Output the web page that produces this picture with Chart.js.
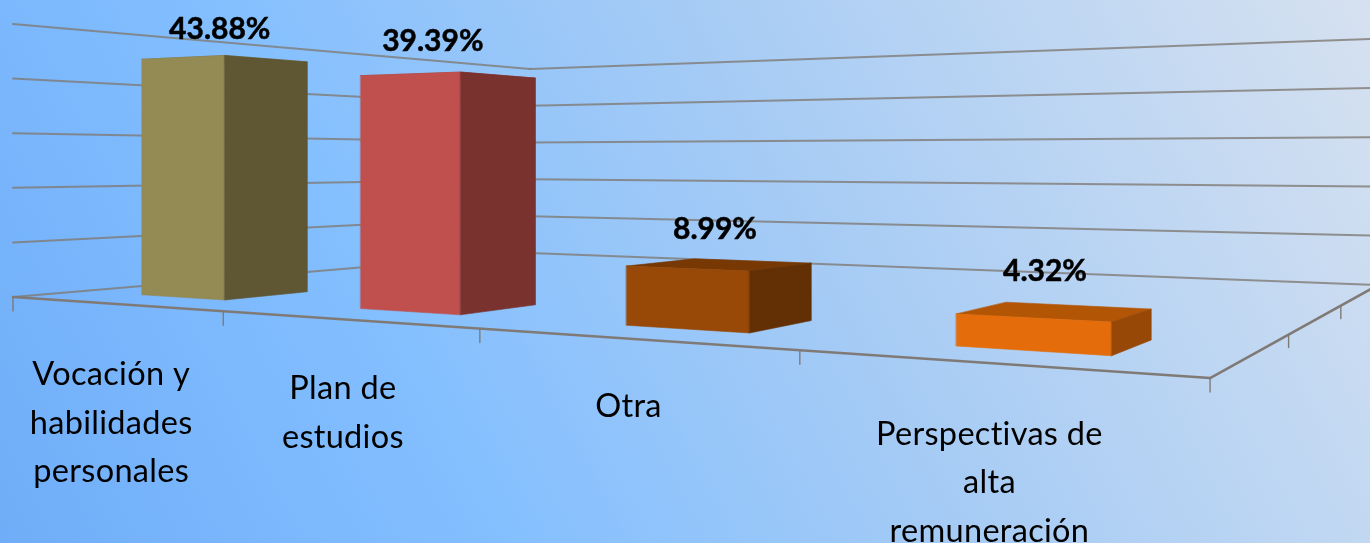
<!DOCTYPE html>
<html>
<head>
<meta charset="utf-8">
<title>Chart</title>
<script src="https://cdn.jsdelivr.net/npm/chart.js@4"></script>
<style>
  html, body { margin: 0; padding: 0; overflow: hidden; }
  body { width: 1370px; height: 543px; background: linear-gradient(62deg, #6fadf8 0%, #83bfff 30%, #a5cbf5 58%, #d6e1f0 100%); }
  canvas { display: block; filter: blur(0.55px); }
</style>
</head>
<body>
<canvas id="bar-chart" width="1370" height="543"></canvas>
<script>
const categories = [
  ['Vocación y', 'habilidades', 'personales'],
  ['Plan de', 'estudios'],
  ['Otra'],
  ['Perspectivas de', 'alta', 'remuneración'],
];
const shares = [43.88, 39.39, 8.99, 4.32];
const frontColors = ['#948a54', '#c0504d', '#984807', '#e46c0a'];
const sideColors = ['#5f5733', '#7a322f', '#632f04', '#974806'];
const topColors = ['#716940', '#96403d', '#773804', '#b25606'];
const labelShiftX = [-8, -18, -6, -10];
const labelShiftY = [0, -4, -3, -8];

const axisMin = 0;
const axisMax = 50;
const axisStep = 10;

// perspective of the floor (u along the categories, d into the picture)
const P = { a: 760.6, b: 773, c: 13, e: -55.3, f: 78.2, k: 297, g: -0.3607, h: 0.483, wall: 273, wallG: -0.375 };
const depthTicks = [0, 1 / 3, 2 / 3, 1];
const barDepth = [0.095, 0.225];
const barNudge = 0.0015;

function project(u, d, level) {
  const w = 1 + P.g * u + P.h * d;
  return {
    x: (P.a * u + P.b * d + P.c) / w,
    y: (P.e * u + P.f * d + P.k) / w - (P.wall * level) / (1 + P.wallG * u + P.h * d),
  };
}

function polygon(ctx, points, color) {
  ctx.beginPath();
  points.forEach((p, i) => (i ? ctx.lineTo(p.x, p.y) : ctx.moveTo(p.x, p.y)));
  ctx.closePath();
  ctx.fillStyle = color;
  ctx.strokeStyle = color;
  ctx.lineWidth = 0.6;
  ctx.fill();
  ctx.stroke();
}

function line(ctx, a, b, width) {
  ctx.beginPath();
  ctx.moveTo(a.x, a.y);
  ctx.lineTo(b.x, b.y);
  ctx.lineWidth = width;
  ctx.stroke();
}

const perspective = {
  id: 'perspective',
  beforeDatasetsDraw(chart) {
    const { ctx, chartArea, scales } = chart;
    const yScale = scales.y;
    const levelOf = (px) => (yScale.bottom - px) / yScale.height;
    const uOf = (px) => (px - chartArea.left) / chartArea.width;

    ctx.save();
    ctx.lineCap = 'round';
    ctx.strokeStyle = 'rgba(128,122,118,0.8)';

    // walls
    yScale.ticks.forEach((tick) => {
      const level = levelOf(yScale.getPixelForValue(tick.value));
      line(ctx, project(0, 0, level), project(0, 1, level), 2);
      line(ctx, project(0, 1, level), project(1, 1, level), 2);
    });

    // floor edges and tick marks
    ctx.strokeStyle = 'rgba(128,122,118,1)';
    line(ctx, project(0, 0, 0), project(1, 0, 0), 2.6);
    line(ctx, project(1, 0, 0), project(1, 1, 0), 2.6);
    const edges = categories.length;
    for (let i = 0; i <= edges; i++) {
      const p = project(i / edges, 0, 0);
      line(ctx, p, { x: p.x, y: p.y + 14 }, 1.4);
    }
    depthTicks.slice(1, 3).forEach((d) => {
      const p = project(1, d, 0);
      line(ctx, p, { x: p.x, y: p.y + 13 }, 1.4);
    });

    // bars, taken from the bar elements that Chart.js laid out
    const meta = chart.getDatasetMeta(0);
    meta.data.forEach((bar, i) => {
      const u0 = uOf(bar.x - bar.width / 2) + barNudge;
      const u1 = uOf(bar.x + bar.width / 2) + barNudge;
      const [d0, d1] = barDepth;
      const level = levelOf(bar.y);
      polygon(ctx, [project(u0, d0, level), project(u1, d0, level), project(u1, d1, level), project(u0, d1, level)], topColors[i]);
      polygon(ctx, [project(u0, d0, 0), project(u1, d0, 0), project(u1, d0, level), project(u0, d0, level)], bar.options.backgroundColor);
      polygon(ctx, [project(u1, d0, 0), project(u1, d1, 0), project(u1, d1, level), project(u1, d0, level)], sideColors[i]);
    });

    // value labels
    ctx.fillStyle = '#000';
    ctx.strokeStyle = '#000';
    ctx.lineWidth = 0.5;
    ctx.textAlign = 'center';
    ctx.textBaseline = 'alphabetic';
    ctx.font = 'bold 30px Lato';
    meta.data.forEach((bar, i) => {
      const p = project(uOf(bar.x), 0.165, levelOf(bar.y));
      const text = shares[i].toFixed(2) + '%';
      const x = p.x + labelShiftX[i];
      const y = p.y - 22 + labelShiftY[i];
      ctx.fillText(text, x, y);
      ctx.strokeText(text, x, y);
    });

    // category labels under the front edge
    ctx.font = '32.5px Lato';
    ctx.letterSpacing = '0.3px';
    ctx.textBaseline = 'middle';
    meta.data.forEach((bar, i) => {
      const p = project(uOf(bar.x), 0, 0);
      const rows = chart.data.labels[i];
      rows.forEach((text, n) => {
        ctx.fillText(text, p.x - 2, p.y + 66.5 + rows.length * 1.5 + n * 48.5);
      });
    });
    ctx.restore();
    return false;
  },
};

new Chart(document.getElementById('bar-chart').getContext('2d'), {
  type: 'bar',
  data: {
    labels: categories,
    datasets: [
      {
        data: shares,
        backgroundColor: frontColors,
        categoryPercentage: 1,
        barPercentage: 0.4,
      },
    ],
  },
  options: {
    responsive: false,
    animation: false,
    layout: { padding: 0 },
    plugins: { legend: { display: false }, tooltip: { enabled: false } },
    scales: {
      x: { display: false },
      y: { display: false, min: axisMin, max: axisMax, ticks: { stepSize: axisStep } },
    },
  },
  plugins: [perspective],
});
</script>
</body>
</html>
